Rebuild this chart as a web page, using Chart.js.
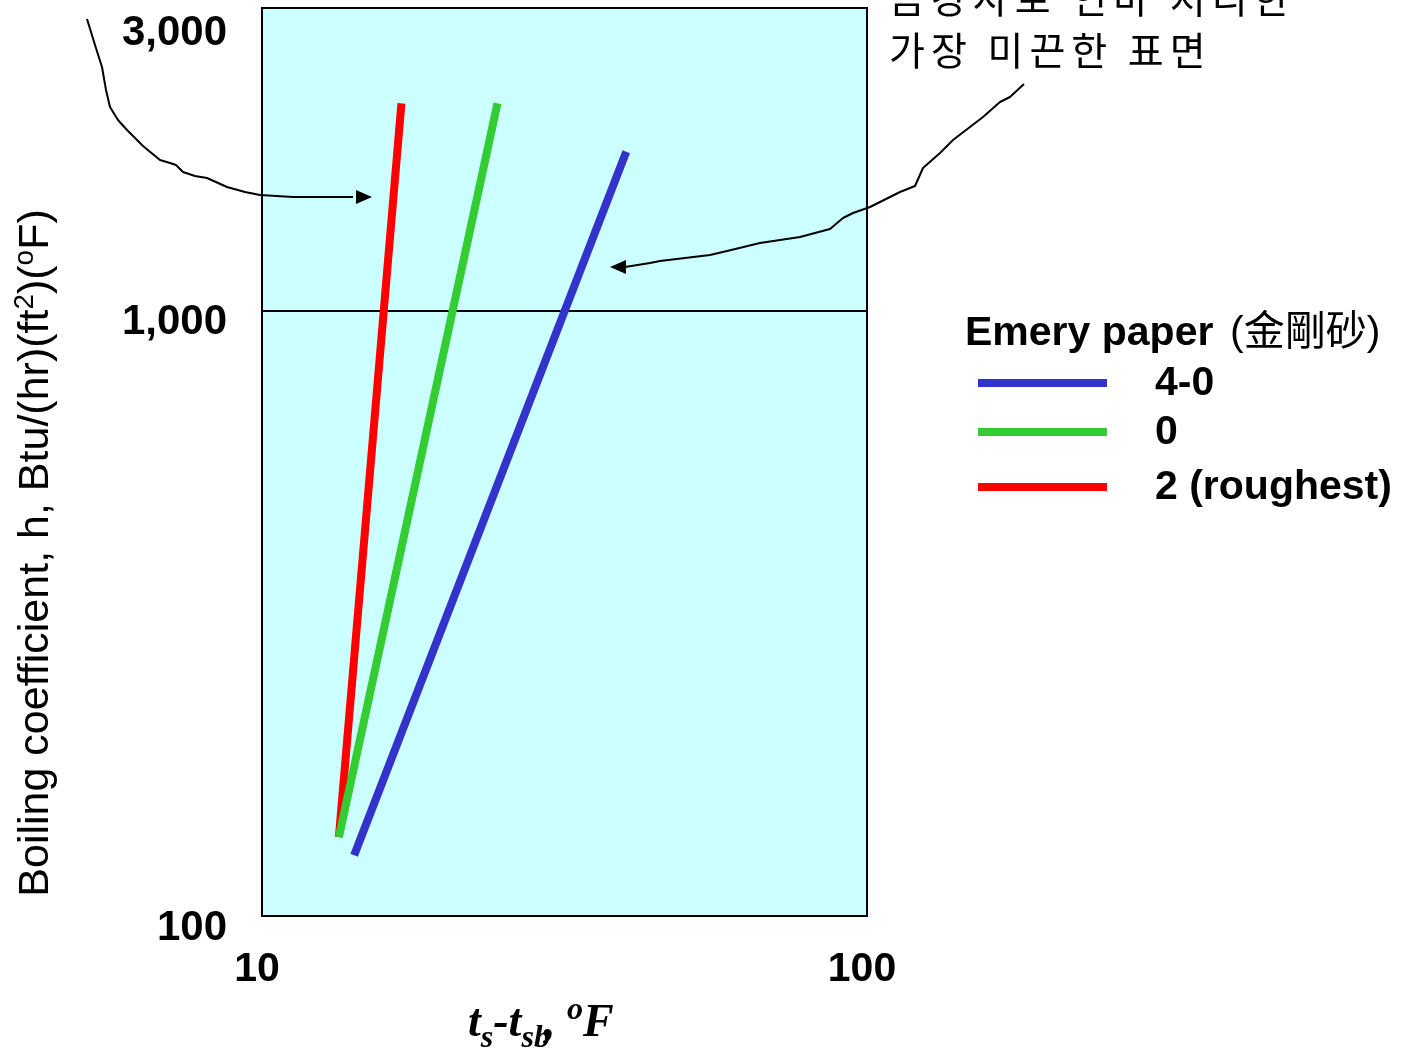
<!DOCTYPE html>
<html>
<head>
<meta charset="utf-8">
<script src="https://cdn.jsdelivr.net/npm/chart.js@4"></script>
<style>
  html, body { margin: 0; padding: 0; background: #fff; }
</style>
</head>
<body>
<canvas id="boilingChart" width="1413" height="1052"></canvas>
<script>
document.addEventListener("DOMContentLoaded", () => {

  // emery paper grades
  const grades = ['4-0', '0', '2 (roughest)'];
  const gradeColors = ['#3333CC', '#33CC33', '#FF0000'];

  // temperature difference ts - tsb (F)
  const dt40 = [14.2, 40.0];
  const dt0  = [13.4, 24.5];
  const dt2  = [13.4, 17.0];

  // boiling coefficient h
  const h40 = [126, 1830];
  const h0  = [135, 2200];
  const h2  = [135, 2200];

  const xTicks = [10, 100];
  const yTicks = [100, 1000, 3000];

  // freehand callout arrows (decoration)
  const leftArrow = [[87,19],[95,45],[102,67],[106,90],[110,107],[118,120],[127,130],[143,146],[160,160],[170,163],[176,165],[183,172],[195,176],[207,178],[227,187],[245,192],[260,195],[293,197],[353,197],[372,197]];
  const rightArrow = [[1024,84],[1010,97],[1000,102],[983,117],[953,140],[940,153],[923,168],[915,186],[900,192],[870,207],[853,213],[843,218],[830,229],[800,237],[760,243],[727,251],[710,255],[660,261],[650,263],[625,267],[610,267]];

  const toPoints = (xs, ys) => xs.map((x, i) => ({ x: x, y: ys[i] }));

  function drawRich(ctx, parts, x, y, baseFont, size) {
    parts.forEach(p => {
      const s = size * (p.scale || 1);
      ctx.font = baseFont.replace('SIZE', s + 'px');
      ctx.fillText(p.t, x, y + (p.dy || 0));
      x += ctx.measureText(p.t).width + (p.kern || 0);
    });
    return x;
  }

  function richWidth(ctx, parts, baseFont, size) {
    let w = 0;
    parts.forEach(p => {
      ctx.font = baseFont.replace('SIZE', size * (p.scale || 1) + 'px');
      w += ctx.measureText(p.t).width + (p.kern || 0);
    });
    return w;
  }

  function drawArrow(ctx, pts) {
    ctx.save();
    ctx.strokeStyle = '#000';
    ctx.lineWidth = 2;
    ctx.lineJoin = 'round';
    ctx.beginPath();
    const n = pts.length;
    pts.slice(0, n - 1).forEach((p, i) => i === 0 ? ctx.moveTo(p[0], p[1]) : ctx.lineTo(p[0], p[1]));
    ctx.stroke();
    const tip = pts[n - 1], prev = pts[n - 2];
    const a = Math.atan2(tip[1] - prev[1], tip[0] - prev[0]);
    ctx.fillStyle = '#000';
    ctx.beginPath();
    ctx.moveTo(tip[0], tip[1]);
    ctx.lineTo(tip[0] - 16 * Math.cos(a) + 7 * Math.sin(a), tip[1] - 16 * Math.sin(a) - 7 * Math.cos(a));
    ctx.lineTo(tip[0] - 16 * Math.cos(a) - 7 * Math.sin(a), tip[1] - 16 * Math.sin(a) + 7 * Math.cos(a));
    ctx.closePath();
    ctx.fill();
    ctx.restore();
  }

  const decorations = {
    id: 'decorations',
    beforeDraw(chart) {
      const { ctx, chartArea: a } = chart;
      ctx.save();
      ctx.fillStyle = '#CCFFFF';
      ctx.fillRect(a.left, a.top, a.right - a.left, a.bottom - a.top);
      ctx.restore();
    },
    afterDraw(chart) {
      const { ctx, chartArea: a } = chart;
      ctx.save();
      ctx.strokeStyle = '#000';
      ctx.lineWidth = 2;
      ctx.strokeRect(a.left, a.top, a.right - a.left, a.bottom - a.top);

      ctx.fillStyle = '#000';
      ctx.textBaseline = 'alphabetic';

      // y axis title
      const yParts = [
        { t: 'Boiling coefficient, h, Btu/(hr)(ft' },
        { t: '2', scale: 0.65, dy: -15 },
        { t: ')(' },
        { t: 'o', scale: 0.65, dy: -15 },
        { t: 'F)' }
      ];
      const yFont = 'SIZE "Liberation Sans", Arial, sans-serif';
      const yw = richWidth(ctx, yParts, yFont, 43);
      ctx.save();
      ctx.translate(48, 553);
      ctx.rotate(-Math.PI / 2);
      drawRich(ctx, yParts, -yw / 2, 0, yFont, 43);
      ctx.restore();

      // x axis title
      const xParts = [
        { t: 't' },
        { t: 's', scale: 0.7, dy: 11 },
        { t: '-t' },
        { t: 'sb', scale: 0.7, dy: 11, kern: -6 },
        { t: ', ' },
        { t: 'o', scale: 0.7, dy: -17 },
        { t: 'F' }
      ];
      drawRich(ctx, xParts, 468, 1036, 'italic bold SIZE "Liberation Serif", "Times New Roman", serif', 46);

      // legend
      ctx.font = 'bold 41px "Liberation Sans", Arial, sans-serif';
      ctx.fillText('Emery paper', 965, 345);
      ctx.font = '41px "Liberation Sans", "Noto Sans CJK TC", sans-serif';
      ctx.fillText('(金剛砂)', 1230, 345);
      const rows = [383, 432, 487];
      chart.data.datasets.forEach((ds, i) => {
        ctx.strokeStyle = ds.borderColor;
        ctx.lineWidth = 8;
        ctx.beginPath();
        ctx.moveTo(978, rows[i]);
        ctx.lineTo(1107, rows[i]);
        ctx.stroke();
        ctx.font = 'bold 41px "Liberation Sans", Arial, sans-serif';
        ctx.textBaseline = 'middle';
        ctx.fillText(ds.label, 1155, rows[i] + 1);
      });

      // Korean callout text
      ctx.textBaseline = 'alphabetic';
      ctx.font = '39px "Noto Sans CJK KR", sans-serif';
      ctx.letterSpacing = '6px';
      ctx.fillText('금강사로 연마 처리한', 889, 13);
      ctx.fillText('가장 미끈한 표면', 889, 65);
      ctx.letterSpacing = '0px';
      ctx.restore();

      drawArrow(ctx, leftArrow);
      drawArrow(ctx, rightArrow);
    }
  };

  const ctx = document.getElementById('boilingChart').getContext('2d');

  new Chart(ctx, {
    type: 'scatter',
    data: {
      datasets: [
        { label: grades[0], data: toPoints(dt40, h40), borderColor: gradeColors[0] },
        { label: grades[1], data: toPoints(dt0, h0), borderColor: gradeColors[1] },
        { label: grades[2], data: toPoints(dt2, h2), borderColor: gradeColors[2] }
      ].map(ds => Object.assign(ds, {
        showLine: true,
        borderWidth: 8,
        pointRadius: 0,
        borderCapStyle: 'butt',
        backgroundColor: ds.borderColor
      }))
    },
    options: {
      responsive: false,
      animation: false,
      layout: { padding: { left: 0, top: 8, right: 546, bottom: 0 } },
      plugins: {
        legend: { display: false },
        tooltip: { enabled: false }
      },
      scales: {
        x: {
          type: 'logarithmic',
          min: 10,
          max: 100,
          afterFit: (s) => { s.height = 136; s.paddingLeft = 0; s.paddingRight = 0; },
          afterBuildTicks: (s) => { s.ticks = xTicks.map(v => ({ value: v })); },
          grid: { display: false, drawTicks: false },
          border: { display: false },
          ticks: {
            padding: 29,
            labelOffset: -5,
            maxRotation: 0,
            autoSkip: false,
            color: '#000',
            font: { family: '"Liberation Sans", Arial, sans-serif', size: 41, weight: 'bold' },
            callback: (v) => v.toLocaleString('en-US')
          }
        },
        y: {
          type: 'logarithmic',
          min: 100,
          max: 3162,
          afterFit: (s) => { s.width = 262; s.paddingTop = 0; s.paddingBottom = 0; },
          afterBuildTicks: (s) => { s.ticks = yTicks.map(v => ({ value: v })); },
          grid: {
            drawTicks: false,
            lineWidth: 2,
            color: (c) => c.tick && c.tick.value === 1000 ? '#000' : 'rgba(0,0,0,0)'
          },
          border: { display: false },
          ticks: {
            padding: 35,
            labelOffset: 12,
            autoSkip: false,
            color: '#000',
            font: { family: '"Liberation Sans", Arial, sans-serif', size: 42, weight: 'bold' },
            callback: (v) => v.toLocaleString('en-US')
          }
        }
      }
    },
    plugins: [decorations]
  });

});
</script>
</body>
</html>
